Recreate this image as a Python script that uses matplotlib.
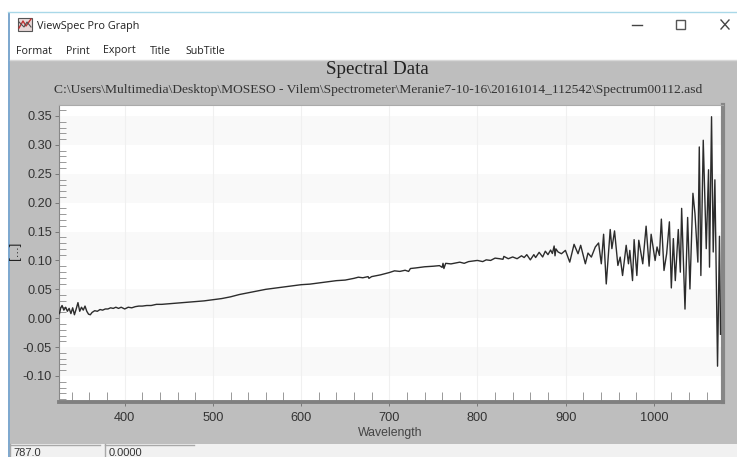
import matplotlib
matplotlib.use('Agg')
import matplotlib.pyplot as plt
from matplotlib.patches import Rectangle
from matplotlib.ticker import MultipleLocator, FixedLocator

# spectrum
wavelength = [326, 327.5, 329, 331, 333, 335, 337, 339, 341, 343, 345, 347, 349, 351, 353, 355, 357, 359, 361, 363,
              366, 369, 372, 375, 378, 381, 384, 387, 390, 393, 396, 400, 404, 408, 412, 416, 420, 425, 430, 436,
              442, 450, 458, 466, 474, 482, 490, 500, 510, 520, 530, 540, 550, 560, 570, 580, 590, 600, 610, 620,
              630, 640, 650, 660, 665, 670, 676, 677, 680, 690, 700, 706, 712, 718, 722, 724, 730, 740, 750, 757,
              760, 761, 762, 764, 770, 780, 785, 790, 800, 806, 810, 815, 820, 825, 829, 830, 835, 840, 845, 850,
              853, 856, 860, 864, 866, 870, 874, 877, 880, 883, 885, 887, 888, 889,
              891.5, 895.3, 899.8, 904.7, 909.6, 914.1, 917.1, 922.4, 925.4, 929.2, 933.7, 937.4, 940.5, 943.1,
              946.1, 950.6, 952.5, 955.5, 959.3, 961.9, 964.6, 968.7, 971.3, 972.8, 975.9, 977.7, 980.8, 983.0,
              987.5, 991.3, 994.7, 997.0, 1001.5, 1003.7, 1006.4, 1008.6, 1011.6, 1014.6, 1017.7, 1019.9, 1022.2,
              1024.4, 1027.8, 1030.1, 1031.6, 1035.4, 1038.4, 1041.0, 1044.4, 1046.7, 1050.0, 1051.6, 1053.4,
              1056.1, 1059.5, 1062.1, 1063.2, 1065.5, 1067.4, 1069.3, 1072.3, 1074.5, 1075.7]
reflectance = [0.008, 0.018, 0.022, 0.014, 0.019, 0.012, 0.017, 0.008, 0.018, 0.006, 0.016, 0.027, 0.012, 0.019, 0.014,
               0.021, 0.012, 0.007, 0.006, 0.010, 0.013, 0.012, 0.015, 0.014, 0.016, 0.016, 0.018, 0.017, 0.019, 0.017,
               0.019, 0.016, 0.019, 0.018, 0.020, 0.021, 0.021, 0.022, 0.022, 0.024, 0.024, 0.025, 0.026, 0.027, 0.028,
               0.029, 0.030, 0.032, 0.034, 0.037, 0.041, 0.044, 0.047, 0.050, 0.052, 0.054, 0.056, 0.058, 0.059, 0.061,
               0.063, 0.065, 0.066, 0.069, 0.071, 0.070, 0.072, 0.069, 0.072, 0.075, 0.079, 0.082, 0.081, 0.083, 0.081,
               0.086, 0.087, 0.089, 0.090, 0.091, 0.088, 0.095, 0.086, 0.095, 0.094, 0.097, 0.095, 0.098, 0.100, 0.098,
               0.101, 0.100, 0.104, 0.103, 0.102, 0.107, 0.103, 0.106, 0.103, 0.108, 0.105, 0.110, 0.101, 0.110, 0.105,
               0.114, 0.106, 0.116, 0.110, 0.118, 0.112, 0.125, 0.108, 0.120,
               0.1146, 0.1116, 0.1174, 0.0971, 0.1279, 0.1116, 0.1262, 0.0942, 0.1128, 0.1058, 0.1233, 0.1302, 0.0942,
               0.1453, 0.0593, 0.1535, 0.1204, 0.1511, 0.0913, 0.1058, 0.0739, 0.1262, 0.0942, 0.1174, 0.0651, 0.1360,
               0.0739, 0.1349, 0.0942, 0.1593, 0.0901, 0.1453, 0.0999, 0.1233, 0.1087, 0.1715, 0.0826, 0.1116, 0.1668,
               0.0524, 0.1378, 0.0651, 0.1535, 0.0797, 0.1901, 0.0158, 0.1744, 0.0506, 0.2162, 0.1813, 0.0971, 0.2964,
               0.0739, 0.3080, 0.1204, 0.2569, 0.0884, 0.3487, 0.1146, 0.2395, -0.0830, 0.1418, -0.0278]

x_ticks = [400, 500, 600, 700, 800, 900, 1000]
y_ticks = [-0.10, -0.05, 0.00, 0.05, 0.10, 0.15, 0.20, 0.25, 0.30, 0.35]
band_starts = [-0.10, 0.00, 0.10, 0.20, 0.30]
menu_items = ['Format', 'Print', 'Export', 'Title', 'SubTitle']
menu_x = [16, 66, 103, 150, 185]
plot_title = 'Spectral Data'
plot_path = r'C:\Users\Multimedia\Desktop\MOSESO - Vilem\Spectrometer\Meranie7-10-16\20161014_112542\Spectrum00112.asd'

W, H = 737, 457
fig = plt.figure(figsize=(W / 100, H / 100), dpi=100, facecolor='white')

# window around the graph, in pixels
bg = fig.add_axes([0, 0, 1, 1])
bg.set_xlim(0, W)
bg.set_ylim(H, 0)
bg.axis('off')
bg.add_patch(Rectangle((8, 60), W - 8, 384, color='#bebebe', lw=0))
bg.add_patch(Rectangle((8, 444), W - 8, 13, color='#f1f1f1', lw=0))
bg.add_patch(Rectangle((8, 12), 2, 445, color='#7fa9cf', lw=0))
bg.plot([8, W], [12, 12], color='#a9d8e8', lw=1)
bg.plot([10, W], [59.5, 59.5], color='#d8d8d8', lw=1)

# title bar icon and buttons
bg.add_patch(Rectangle((18, 18), 14, 13, fc='#e8d8d8', ec='#555555', lw=0.8))
bg.plot([19, 23, 26, 31], [28, 21, 26, 19], color='#c03030', lw=1)
bg.plot([19, 24, 27, 31], [22, 27, 22, 27], color='#505050', lw=0.8)
bg.plot([632, 642], [25, 25], color='#444444', lw=1)
bg.add_patch(Rectangle((676, 20), 9, 9, fc='none', ec='#555555', lw=1))
bg.plot([721, 729], [20, 29], color='#444444', lw=1)
bg.plot([721, 729], [29, 20], color='#444444', lw=1)
bg.text(37, 26.5, 'ViewSpec Pro Graph', family='Open Sans', fontsize=7.8, color='#222222', va='center')
for name, px in zip(menu_items, menu_x):
    bg.text(px, 51, name, family='Open Sans', fontsize=7.7, color='#222222', va='center')

bg.text(377, 69, plot_title, family='Liberation Serif', fontsize=13.7, color='#222222', ha='center', va='center')
bg.text(378, 90, plot_path, family='Liberation Serif', fontsize=9.7, color='#333333', ha='center', va='center')
bg.text(15.5, 251, '[...]', family='Liberation Sans', fontsize=9.5, color='#222222', rotation=90, ha='center', va='center')
bg.text(390, 433, 'Wavelength', family='Liberation Sans', fontsize=8.8, color='#444444', ha='center', va='center')

# status bar
bg.plot([10, 100], [444.5, 444.5], color='#a8a8a8', lw=1)
bg.plot([105, 194], [444.5, 444.5], color='#a8a8a8', lw=1)
bg.plot([10, 10], [444, H], color='#a8a8a8', lw=1)
bg.plot([105, 105], [444, H], color='#a8a8a8', lw=1)
bg.text(13, 453, '787.0', family='Liberation Sans', fontsize=8, color='#333333', va='center')
bg.text(109, 453, '0.0000', family='Liberation Sans', fontsize=8, color='#333333', va='center')

# the graph itself
ax = fig.add_axes([59 / W, 1 - 402 / H, (723 - 59) / W, (402 - 105) / H])
ax.set_zorder(2)
ax.set_xlim(325.5, 1078.5)
ax.set_ylim(-0.145, 0.369)
for start in band_starts:
    ax.axhspan(start, start + 0.05, color='#f9f9f9', lw=0, zorder=0)
for tick in x_ticks:
    ax.axvline(tick, color='#f0f0f0', lw=0.8, zorder=1)

ax.plot(wavelength, reflectance, color='#2c2c2c', lw=1.0, zorder=3)

ax.xaxis.set_major_locator(FixedLocator(x_ticks))
ax.yaxis.set_major_locator(FixedLocator(y_ticks))
ax.xaxis.set_minor_locator(MultipleLocator(20))
ax.yaxis.set_minor_locator(MultipleLocator(0.01))
ax.set_xticklabels([str(t) for t in x_ticks], family='Liberation Sans', fontsize=9.2, color='#333333')
ax.set_yticklabels(['%.2f' % t for t in y_ticks], family='Liberation Sans', fontsize=9.2, color='#333333')
ax.tick_params(axis='x', which='major', length=3, width=0.7, color='#777777', pad=4.5)
ax.tick_params(axis='y', which='major', length=3, width=0.7, color='#777777', pad=2)
ax.tick_params(axis='x', which='minor', direction='in', length=7, width=0.7, color='#999999')
ax.tick_params(axis='y', which='minor', direction='in', length=5, width=0.7, color='#999999')

ax.spines['left'].set_color('#888888')
ax.spines['left'].set_linewidth(0.8)
ax.spines['top'].set_color('#aaaaaa')
ax.spines['top'].set_linewidth(0.8)
ax.spines['right'].set_color('#868686')
ax.spines['right'].set_linewidth(3)
ax.spines['bottom'].set_color('#808080')
ax.spines['bottom'].set_linewidth(2.8)

fig.savefig('out.png', dpi=100)
